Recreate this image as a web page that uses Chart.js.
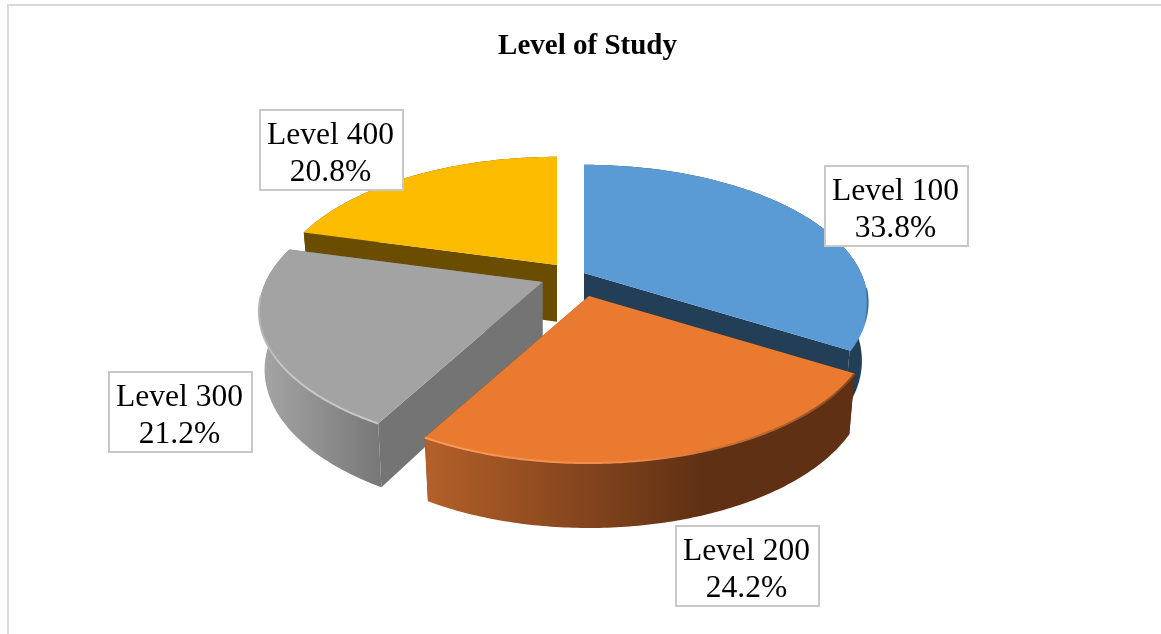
<!DOCTYPE html>
<html>
<head>
<meta charset="utf-8">
<title>Level of Study</title>
<script src="https://cdn.jsdelivr.net/npm/chart.js@4"></script>
<style>
    html, body { margin: 0; padding: 0; background: #fff; }
    #frame { position: absolute; left: 7px; top: 4px; width: 1160px; height: 640px; border: 2px solid #d9d9d9; }
    #wrap { position: fixed; left: 0; top: 0; width: 1161px; height: 634px; overflow: hidden; }
    canvas { position: absolute; left: 0; top: 0; }
</style>
</head>
<body>
<div id="wrap">
    <div id="frame"></div>
    <canvas id="levelChart" width="1161" height="634"></canvas>
</div>
<script>
// --- DATA ---
const categories = ['Level 100', 'Level 200', 'Level 300', 'Level 400'];
const shares = [33.8, 24.2, 21.2, 20.8];

// --- STYLE ---
const topColors = ['#5B9BD5', '#EA7A30', '#A3A3A3', '#FBBC00'];
const cutColors = ['#233F58', '#5F3013', '#747474', '#6A4D00'];
// outer wall gradient, left to right
const wallStops = [
    [[0, '#233F58'], [1, '#233F58']],
    [[0, '#B4602A'], [0.65, '#5F3013'], [1, '#5F3013']],
    [[0, '#A6A6A6'], [1, '#777777']],
    [[0, '#6A4D00'], [1, '#6A4D00']]
];
const rimStops = [
    [[0, '#5B9BD5'], [0.8, '#5B9BD5'], [1, '#3A6A94']],
    [[0, '#F79A5C'], [0.5, '#F08A48'], [1, '#8A4A1C']],
    [[0, '#B4B4B4'], [0.2, '#C6C6C6'], [1, '#C8C8C8']],
    [[0, '#FBBC00'], [1, '#FBBC00']]
];
// how far each slice is pulled out of the pie, in pixels on screen
const explode = [[-3.5, -17], [1.5, 6], [-45, -8], [-30.5, -25]];
// label boxes: left, top
const labelBoxes = [[825, 166], [676, 526], [109, 372], [260, 110]];
const labelSize = [143, 80];

// --- TILTED PIE PROJECTION ---
const view = { sx: 1.27, sy: 0.602, persp: 0.2145, depth: 0.261, shrink: 0.02, grow: 0.048 };

// angle from the arc element, radius in 0..1, z = 0 top face, z = 1 bottom face
function project(arc, index, angle, radius, z) {
    const r = arc.outerRadius;
    const u = Math.cos(angle) * radius;
    const v = -Math.sin(angle) * radius;
    const w = 1 + view.persp * v;
    return {
        x: arc.x + explode[index][0] + (r * view.sx * u / w) * (1 - view.shrink * z),
        y: arc.y + explode[index][1] - (r * view.sy * v / w) * (1 + view.grow * z) + r * view.depth * z,
        v: v
    };
}

function arcPoints(arc, index, z) {
    const steps = 120;
    const points = [];
    for (let i = 0; i <= steps; i++) {
        const a = arc.startAngle + (arc.endAngle - arc.startAngle) * i / steps;
        points.push(project(arc, index, a, 1, z));
    }
    return points;
}

function fillPolygon(ctx, points, fill) {
    ctx.beginPath();
    points.forEach((p, i) => i ? ctx.lineTo(p.x, p.y) : ctx.moveTo(p.x, p.y));
    ctx.closePath();
    ctx.fillStyle = fill;
    ctx.fill();
}

function horizontalGradient(ctx, points, stops) {
    const xs = points.map(p => p.x);
    const g = ctx.createLinearGradient(Math.min(...xs), 0, Math.max(...xs), 0);
    stops.forEach(s => g.addColorStop(s[0], s[1]));
    return g;
}

function drawSlice(ctx, arc, index) {
    const top = arcPoints(arc, index, 0);
    const bottom = arcPoints(arc, index, 1);
    const hubTop = project(arc, index, 0, 0, 0);
    const hubBottom = project(arc, index, 0, 0, 1);

    // the two cut faces
    fillPolygon(ctx, [hubTop, top[0], bottom[0], hubBottom], cutColors[index]);
    fillPolygon(ctx, [hubTop, top[top.length - 1], bottom[bottom.length - 1], hubBottom], cutColors[index]);

    // outer wall
    const wall = top.concat(bottom.slice().reverse());
    fillPolygon(ctx, wall, horizontalGradient(ctx, wall, wallStops[index]));

    // top face
    fillPolygon(ctx, [hubTop].concat(top), topColors[index]);

    // lit bevel along the front of the rim
    const front = top.filter(p => p.v < -0.1);
    if (front.length > 1) {
        ctx.beginPath();
        front.forEach((p, i) => i ? ctx.lineTo(p.x, p.y) : ctx.moveTo(p.x, p.y));
        ctx.strokeStyle = horizontalGradient(ctx, front, rimStops[index]);
        ctx.lineWidth = 2;
        ctx.stroke();
    }
}

function drawLabel(ctx, index) {
    const left = labelBoxes[index][0];
    const boxTop = labelBoxes[index][1];
    ctx.fillStyle = '#fff';
    ctx.fillRect(left, boxTop, labelSize[0], labelSize[1]);
    ctx.strokeStyle = '#c8c8c8';
    ctx.lineWidth = 2;
    ctx.strokeRect(left, boxTop, labelSize[0], labelSize[1]);

    ctx.fillStyle = '#000';
    ctx.font = '31.5px "Liberation Serif"';
    ctx.textAlign = 'center';
    ctx.textBaseline = 'middle';
    const mid = left + labelSize[0] / 2 - 1;
    ctx.fillText(categories[index], mid, boxTop + 26);
    ctx.fillText(shares[index].toFixed(1) + '%', mid, boxTop + 63);
}

// back slices go down first so the front ones overlap them
const paintOrder = [3, 0, 2, 1];

const tiltedPie = {
    id: 'tiltedPie',
    beforeDatasetDraw(chart, args) {
        const ctx = chart.ctx;
        const arcs = args.meta.data;
        ctx.save();
        paintOrder.forEach(i => drawSlice(ctx, arcs[i], i));
        categories.forEach((c, i) => drawLabel(ctx, i));
        ctx.restore();
        return false;
    }
};

new Chart(document.getElementById('levelChart').getContext('2d'), {
    type: 'pie',
    data: {
        labels: categories,
        datasets: [{
            data: shares,
            backgroundColor: topColors,
            borderWidth: 0,
            hoverOffset: 0
        }]
    },
    options: {
        responsive: false,
        animation: false,
        events: [],
        layout: { padding: { left: 14, right: 0, top: 0, bottom: 126 } },
        plugins: {
            legend: { display: false },
            tooltip: { enabled: false },
            title: {
                display: true,
                text: 'Level of Study',
                color: '#000',
                font: { family: '"Liberation Serif"', size: 29, weight: 'bold', lineHeight: 1.2 },
                padding: { top: 29, bottom: 8 }
            }
        }
    },
    plugins: [tiltedPie]
});
</script>
</body>
</html>
